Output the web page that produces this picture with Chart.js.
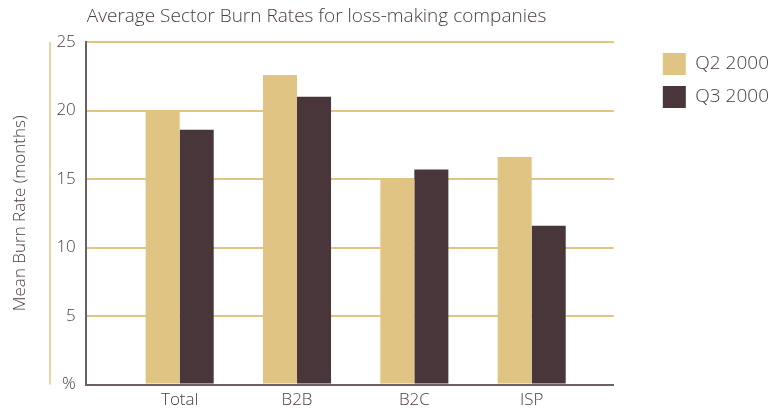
<!DOCTYPE html>
<html>
<head>
<meta charset="utf-8">
<script src="https://cdn.jsdelivr.net/npm/chart.js@4/dist/chart.umd.min.js"></script>
<style>
  html, body { margin: 0; padding: 0; background: #fff; }
  #wrap { width: 779px; height: 415px; position: relative; }
</style>
</head>
<body>
<div id="wrap"><canvas id="burn"></canvas></div>
<script>
const sectors = ['Total', 'B2B', 'B2C', 'ISP'];
const q2Values = [20.0, 22.6, 15.0, 16.6];
const q3Values = [18.6, 21.0, 15.7, 11.6];
const seriesNames = ['Q2 2000', 'Q3 2000'];
const yTicks = [0, 5, 10, 15, 20, 25];

const tan = '#e0c484';
const plum = '#48363a';
const ink = '#4a3c3f';
const fontFamily = '"Open Sans", Lato, sans-serif';
const tickFont = { family: fontFamily, size: 17, weight: 300 };

// title sits over the plot area, plus the thin tan rule left of the y ticks
const decor = {
    id: 'decor',
    afterDraw(chart) {
        const { ctx, chartArea } = chart;
        ctx.save();
        ctx.strokeStyle = tan;
        ctx.lineWidth = 1.5;
        ctx.beginPath();
        ctx.moveTo(50, chartArea.top);
        ctx.lineTo(50, chartArea.bottom);
        ctx.stroke();
        ctx.fillStyle = ink;
        ctx.font = '300 19px ' + fontFamily;
        ctx.textBaseline = 'middle';
        ctx.textAlign = 'left';
        ctx.fillText('Average Sector Burn Rates for loss-making companies', chartArea.left + 1, 17);
        ctx.restore();
    }
};

new Chart(document.getElementById('burn'), {
    type: 'bar',
    data: {
        datasets: [
            {
                label: seriesNames[0],
                data: q2Values.map((v, i) => ({ x: i, y: v })),
                backgroundColor: tan
            },
            {
                label: seriesNames[1],
                data: q3Values.map((v, i) => ({ x: i, y: v })),
                backgroundColor: plum
            }
        ]
    },
    options: {
        responsive: true,
        maintainAspectRatio: false,
        animation: false,
        layout: { padding: { top: 42, left: 10, right: 0, bottom: 0 } },
        datasets: { bar: { categoryPercentage: 0.58, barPercentage: 1.0 } },
        scales: {
            x: {
                type: 'linear',
                offset: false,
                min: -0.8,
                max: 3.7,
                afterBuildTicks(axis) {
                    axis.ticks = sectors.map((s, i) => ({ value: i }));
                },
                ticks: {
                    color: ink,
                    font: tickFont,
                    padding: 5,
                    callback: (v) => sectors[v] ?? ''
                },
                grid: { display: false, drawTicks: false },
                border: { color: '#6e5f62', width: 2 }
            },
            y: {
                min: 0,
                max: 25,
                afterBuildTicks(axis) {
                    axis.ticks = yTicks.map(v => ({ value: v }));
                },
                ticks: {
                    color: ink,
                    font: tickFont,
                    padding: 10,
                    callback: (v) => v === 0 ? '%' : v
                },
                title: {
                    display: true,
                    text: 'Mean Burn Rate (months)',
                    color: ink,
                    font: tickFont,
                    padding: { top: 0, bottom: 16 }
                },
                grid: { color: tan, lineWidth: 2, drawTicks: false },
                border: { color: '#6e5f62', width: 2 }
            },
            // empty right-hand axis keeps a gap between the plot and the legend
            gap: {
                type: 'linear',
                position: 'right',
                grid: { display: false, drawTicks: false },
                border: { display: false },
                ticks: { display: false },
                afterFit(axis) { axis.width = 38; }
            }
        },
        plugins: {
            legend: {
                position: 'right',
                align: 'start',
                labels: {
                    color: ink,
                    font: { family: fontFamily, size: 19, weight: 300 },
                    boxWidth: 23,
                    boxHeight: 22,
                    padding: 11
                }
            },
            tooltip: { enabled: false }
        }
    },
    plugins: [decor]
});
</script>
</body>
</html>
